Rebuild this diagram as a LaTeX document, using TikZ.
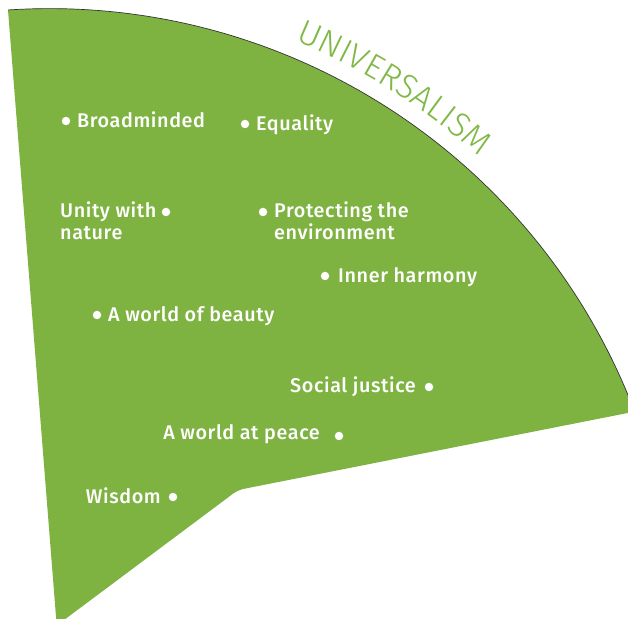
\documentclass[tikz,border=0pt]{standalone}
\usepackage{fontspec}
\setmainfont{Fira Sans}
\newfontfamily\titlefont{Fira Sans Light}
\newfontfamily\labelfont[LetterSpace=3]{Fira Sans Medium}
\usetikzlibrary{decorations.text,calc}
\definecolor{unigreen}{RGB}{126,179,66}
\definecolor{titlegreen}{RGB}{128,184,70}
\begin{document}
\begin{tikzpicture}[x=1pt,y=1pt,
  lbl/.style={text=white,font=\labelfont\fontsize{19.8}{22}\selectfont,inner sep=0pt},
  dot/.style={circle,fill=white,draw=none,minimum size=8.5pt,inner sep=0pt}]
\useasboundingbox (0,0) rectangle (628,618);
\coordinate (C) at (49.6,-17);
\begin{scope}
\clip (0,0) rectangle (628,618);
\fill[unigreen] (8,608) arc[start angle=93.8,end angle=21.5,radius=626.3]
  -- (632.3,205.9) [rounded corners=6pt]-- (238,128) [sharp corners]-- (60,-5) -- (56.5,-5) -- cycle;
\draw[black!80,line width=0.7pt] (8,608) arc[start angle=93.8,end angle=21.5,radius=626.3];
\end{scope}
% title along the arc
\path[decorate,decoration={text along path,text align=center,
  text={|\titlefont\fontsize{34}{34}\selectfont\color{titlegreen}|UNIVERSALISM}}]
  ($(C)+(69.8:643)$) arc[start angle=69.8,end angle=45.8,radius=643];
% labels
\node[dot] (d1) at (66,497) {};
\node[lbl,anchor=base west] (t1) at (77,490) {Broadminded};
\node[dot] (d2) at (245,494) {};
\node[lbl,anchor=base west] (t2) at (256,487) {Equality};
\node[dot] (d3) at (166,406) {};
\node[lbl,anchor=base west] (t3a) at (60,400) {Unity with};
\node[lbl,anchor=base west] (t3b) at (60,378) {nature};
\node[dot] (d4) at (263,406) {};
\node[lbl,anchor=base west] (t4a) at (274,400) {Protecting the};
\node[lbl,anchor=base west] (t4b) at (274,378) {environment};
\node[dot] (d5) at (325,342) {};
\node[lbl,anchor=base west] (t5) at (338,335) {Inner harmony};
\node[dot] (d6) at (97,303) {};
\node[lbl,anchor=base west] (t6) at (108,296) {A world of beauty};
\node[dot] (d7) at (429,231) {};
\node[lbl,anchor=base east] (t7) at (416,225) {Social justice};
\node[dot] (d8) at (339,182) {};
\node[lbl,anchor=base east] (t8) at (320,178) {A world at peace};
\node[dot] (d9) at (173,121) {};
\node[lbl,anchor=base east] (t9) at (161,115) {Wisdom};
\end{tikzpicture}
\end{document}
